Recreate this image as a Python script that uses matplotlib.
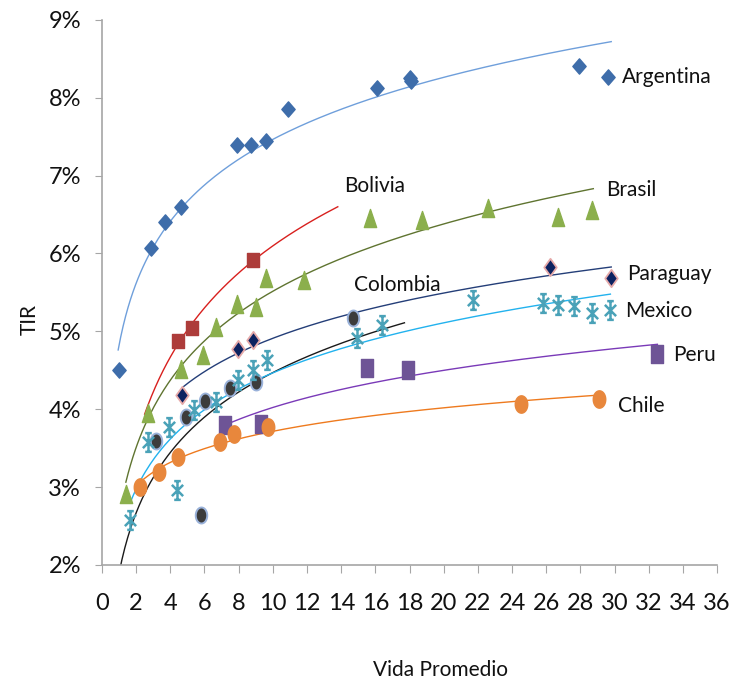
import numpy as np
import matplotlib
matplotlib.use("Agg")
import matplotlib.pyplot as plt
from matplotlib.path import Path
from matplotlib.ticker import PercentFormatter, MultipleLocator

plt.rcParams['font.family'] = ['Lato', 'DejaVu Sans']

# data (x = vida promedio, y = TIR in %)
argentina_x = [1.0, 2.9, 3.7, 4.6, 7.9, 8.7, 9.6, 10.9, 16.1, 18.0, 18.1, 27.9, 29.6]
argentina_y = [4.50, 6.07, 6.40, 6.60, 7.39, 7.39, 7.44, 7.85, 8.12, 8.25, 8.22, 8.41, 8.26]

bolivia_x = [4.45, 5.27, 8.84]
bolivia_y = [4.88, 5.04, 5.92]

brasil_x = [1.4, 2.7, 4.6, 5.9, 6.7, 7.9, 9.0, 9.6, 11.8, 15.7, 18.7, 22.6, 26.7, 28.7]
brasil_y = [2.91, 3.95, 4.52, 4.70, 5.06, 5.35, 5.31, 5.68, 5.66, 6.45, 6.43, 6.58, 6.47, 6.56]

colombia_x = [3.16, 4.9, 5.8, 6.03, 7.5, 9.0, 14.7]
colombia_y = [3.59, 3.90, 2.64, 4.10, 4.27, 4.35, 5.17]

mexico_x = [1.64, 2.7, 3.9, 4.4, 5.4, 6.7, 7.96, 8.84, 9.66, 14.9, 16.4, 21.7, 25.8, 26.7, 27.6, 28.7, 29.7]
mexico_y = [2.58, 3.58, 3.77, 2.96, 3.99, 4.09, 4.37, 4.50, 4.63, 4.91, 5.08, 5.40, 5.36, 5.34, 5.32, 5.23, 5.27]

paraguay_x = [4.7, 7.96, 8.84, 26.2, 29.8]
paraguay_y = [4.18, 4.77, 4.89, 5.83, 5.68]

peru_x = [7.2, 9.3, 15.5, 17.9, 32.5]
peru_y = [3.80, 3.81, 4.53, 4.50, 4.71]

chile_x = [2.2, 3.35, 4.45, 6.9, 7.7, 9.7, 24.5, 29.1]
chile_y = [3.00, 3.19, 3.39, 3.58, 3.68, 3.77, 4.07, 4.13]

# x span covered by each logarithmic trend line
trend_span = {
    'Argentina': (0.95, 29.8),
    'Bolivia': (2.5, 13.8),
    'Brasil': (1.4, 28.75),
    'Colombia': (1.0, 17.7),
    'Mexico': (1.7, 29.75),
    'Paraguay': (4.7, 29.8),
    'Peru': (7.2, 32.5),
    'Chile': (2.2, 29.1),
}


def poly(pts, closed=True, lines=False):
    if lines:
        codes = []
        for i in range(len(pts)):
            codes.append(Path.MOVETO if i % 2 == 0 else Path.LINETO)
        return Path(pts, codes)
    return Path(pts + [pts[0]], closed=True)


diamond = poly([(0, 1), (0.87, 0), (0, -1), (-0.87, 0)])
diamond_n = poly([(0, 1), (0.72, 0), (0, -1), (-0.72, 0)])
square = poly([(-0.92, -1), (0.92, -1), (0.92, 1), (-0.92, 1)])
rect = poly([(-0.7, -1), (0.7, -1), (0.7, 1), (-0.7, 1)])
tri = poly([(0, 1), (-0.68, -1), (0.68, -1)])
t = np.linspace(0, 2 * np.pi, 40)
ellipse = Path(np.column_stack([0.72 * np.cos(t), np.sin(t)]), closed=True)
star = poly([(0, -1), (0, 1), (-0.6, -0.6), (0.6, 0.6), (-0.6, 0.6), (0.6, -0.6),
             (-0.35, 1), (0.35, 1), (-0.35, -1), (0.35, -1)], lines=True)

series = [
    ('Argentina', argentina_x, argentina_y, dict(marker=diamond, ms=11, mfc='#3E6DAA', mec='#3E6DAA'), '#6F9FDB'),
    ('Bolivia', bolivia_x, bolivia_y, dict(marker=square, ms=9.5, mfc='#AD3C3A', mec='#AD3C3A'), '#D8201E'),
    ('Brasil', brasil_x, brasil_y, dict(marker=tri, ms=13, mfc='#8BAF4C', mec='#8BAF4C'), '#5F7430'),
    ('Colombia', colombia_x, colombia_y, dict(marker=ellipse, ms=11.5, mfc='#3C3C3C', mec='#9AB2DA', mew=1.4), '#1A1A1A'),
    ('Mexico', mexico_x, mexico_y, dict(marker=star, ms=13.5, mfc='none', mec='#4AA2B8', mew=1.8), '#22B2EE'),
    ('Paraguay', paraguay_x, paraguay_y, dict(marker=diamond_n, ms=12.5, mfc='#0C2260', mec='#E6AAAA', mew=1.3), '#243E78'),
    ('Peru', peru_x, peru_y, dict(marker=rect, ms=13, mfc='#6E5496', mec='#6E5496'), '#7A3AB8'),
    ('Chile', chile_x, chile_y, dict(marker=ellipse, ms=12.5, mfc='#E8873C', mec='#E8873C'), '#EE7A1E'),
]

label_pos = {
    'Argentina': (30.4, 8.27), 'Bolivia': (14.2, 6.87), 'Brasil': (29.5, 6.82),
    'Colombia': (14.75, 5.60), 'Paraguay': (30.7, 5.74), 'Mexico': (30.6, 5.26),
    'Peru': (33.4, 4.70), 'Chile': (30.2, 4.04),
}

fig = plt.figure(figsize=(7.44, 6.84), dpi=100)
ax = fig.add_axes([0.137, 0.174, 0.827, 0.797])

for name, xs, ys, mk, lc in series:
    xs = np.array(xs)
    ys = np.array(ys)
    b, a = np.polyfit(np.log(xs), ys, 1)
    x0, x1 = trend_span[name]
    xx = np.linspace(x0, x1, 200)
    ax.plot(xx, a + b * np.log(xx), color=lc, lw=1.0, zorder=2)
    ax.plot(xs, ys, ls='none', zorder=3, **mk)
    lx, ly = label_pos[name]
    ax.text(lx, ly, name, fontsize=15, va='center', ha='left', color='#111111')

ax.set_xlim(0, 36)
ax.set_ylim(2, 9)
ax.xaxis.set_major_locator(MultipleLocator(2))
ax.yaxis.set_major_locator(MultipleLocator(1))
ax.yaxis.set_major_formatter(PercentFormatter(100, decimals=0))

for s in ['top', 'right']:
    ax.spines[s].set_visible(False)
for s in ['left', 'bottom']:
    ax.spines[s].set_color('#A6A6A6')
    ax.spines[s].set_linewidth(1.2)
ax.tick_params(axis='x', length=6, color='#A6A6A6', labelsize=17, pad=14, labelcolor='#111111')
ax.tick_params(axis='y', length=5, color='#A6A6A6', labelsize=17, pad=10, labelcolor='#111111')

ax.set_xlabel('Vida Promedio', fontsize=15, color='#111111')
ax.xaxis.set_label_coords(0.55, -0.193)
ax.xaxis.label.set_va('center')
ax.set_ylabel('TIR', fontsize=15, color='#111111')
ax.yaxis.set_label_coords(-0.117, 0.45)
ax.yaxis.label.set_va('center')

fig.savefig('out.png', dpi=100)
